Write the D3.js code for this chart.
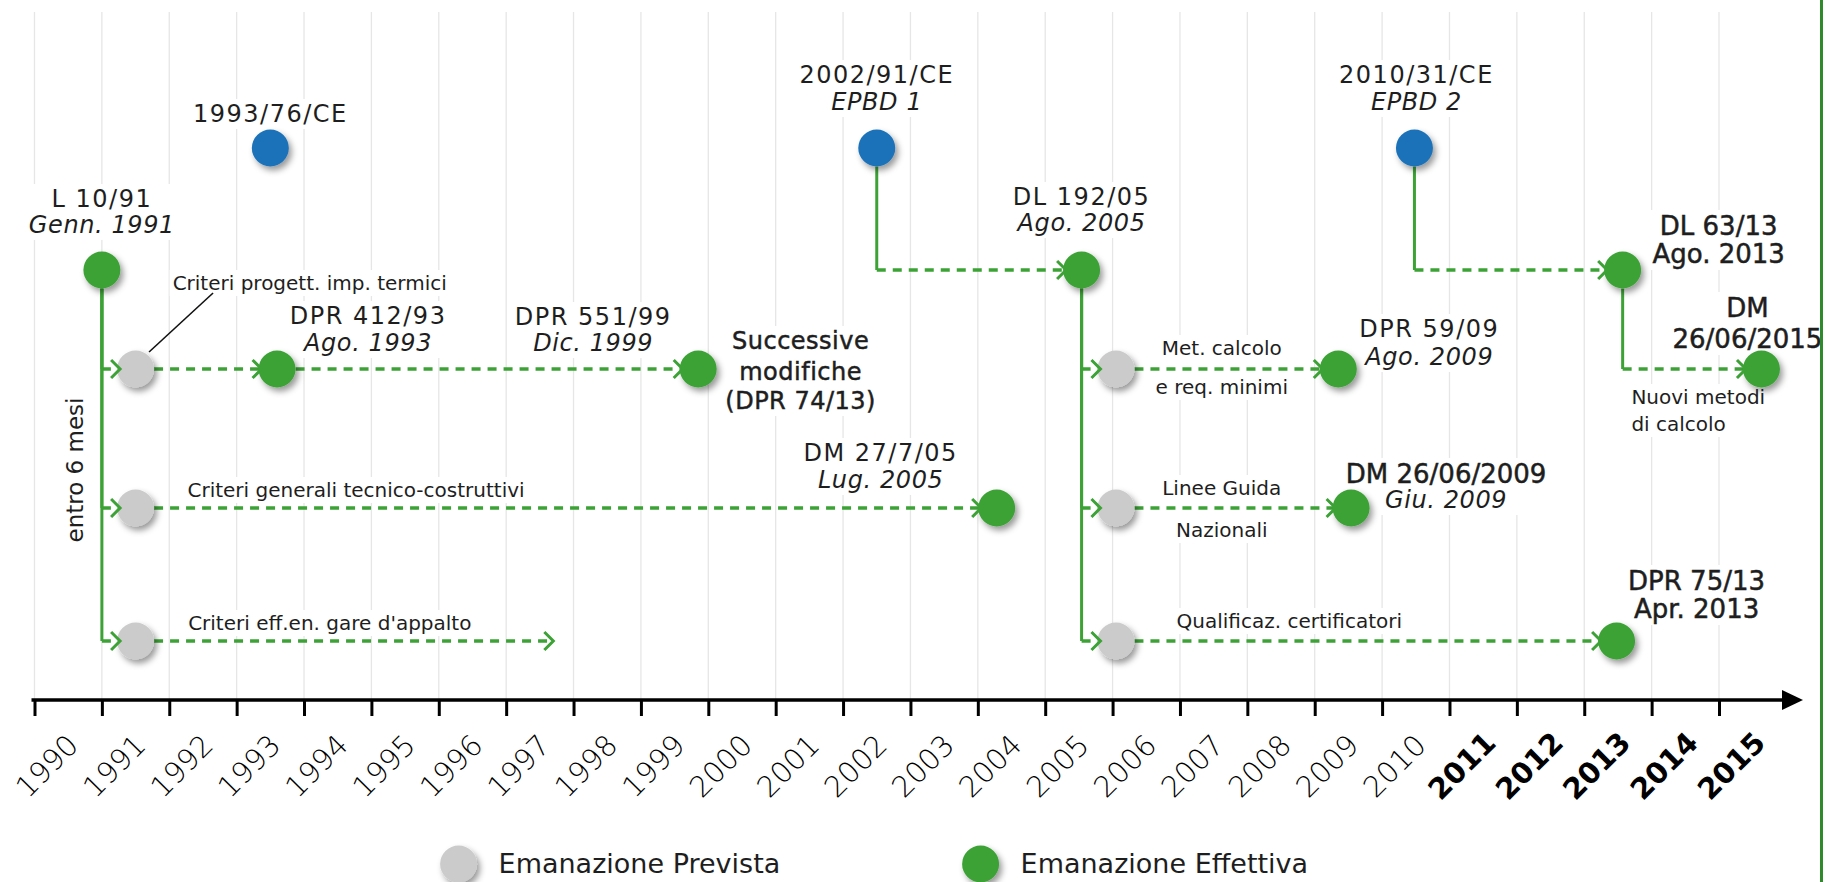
<!DOCTYPE html>
<html>
<head>
<meta charset="utf-8">
<script src="https://cdn.jsdelivr.net/npm/d3@7/dist/d3.min.js"></script>
<style>
  html, body { margin: 0; padding: 0; background: #fff; }
  svg { display: block; font-family: "DejaVu Sans", sans-serif; }
</style>
</head>
<body>
<svg id="chart" width="1825" height="882"></svg>
<script>
// ---- data -------------------------------------------------------------
const years = [1990, 1991, 1992, 1993, 1994, 1995, 1996, 1997, 1998, 1999, 2000, 2001, 2002,
               2003, 2004, 2005, 2006, 2007, 2008, 2009, 2010, 2011, 2012, 2013, 2014, 2015];
const boldYears = [2011, 2012, 2013, 2014, 2015];

const rows = ['eu', 'law', 'r1', 'r2', 'r3'];

// kind: eu = direttiva europea, done = emanazione effettiva, plan = emanazione prevista
const events = [
  { id: 'ce93',   title: '1993/76/CE',    sub: null,         date: 1993.5,  row: 'eu',  kind: 'eu' },
  { id: 'l10',    title: 'L 10/91',       sub: 'Genn. 1991', date: 1991.0,  row: 'law', kind: 'done' },
  { id: 'p1',     date: 1991.5,  row: 'r1', kind: 'plan' },
  { id: 'p2',     date: 1991.5,  row: 'r2', kind: 'plan' },
  { id: 'p3',     date: 1991.5,  row: 'r3', kind: 'plan' },
  { id: 'dpr412', title: 'DPR 412/93',    sub: 'Ago. 1993',  date: 1993.6,  row: 'r1',  kind: 'done' },
  { id: 'dpr551', title: 'DPR 551/99',    sub: 'Dic. 1999',  date: 1999.85, row: 'r1',  kind: 'done' },
  { id: 'dm05',   title: 'DM 27/7/05',    sub: 'Lug. 2005',  date: 2004.28, row: 'r2',  kind: 'done' },
  { id: 'ce02',   title: '2002/91/CE',    sub: 'EPBD 1',     date: 2002.5,  row: 'eu',  kind: 'eu' },
  { id: 'dl192',  title: 'DL 192/05',     sub: 'Ago. 2005',  date: 2005.54, row: 'law', kind: 'done' },
  { id: 'p4',     date: 2006.05, row: 'r1', kind: 'plan' },
  { id: 'p5',     date: 2006.05, row: 'r2', kind: 'plan' },
  { id: 'p6',     date: 2006.05, row: 'r3', kind: 'plan' },
  { id: 'dpr59',  title: 'DPR 59/09',     sub: 'Ago. 2009',  date: 2009.35, row: 'r1',  kind: 'done' },
  { id: 'dm09',   title: 'DM 26/06/2009', sub: 'Giu. 2009',  date: 2009.54, row: 'r2',  kind: 'done' },
  { id: 'ce10',   title: '2010/31/CE',    sub: 'EPBD 2',     date: 2010.48, row: 'eu',  kind: 'eu' },
  { id: 'dl63',   title: 'DL 63/13',      sub: 'Ago. 2013',  date: 2013.57, row: 'law', kind: 'done' },
  { id: 'dpr75',  title: 'DPR 75/13',     sub: 'Apr. 2013',  date: 2013.48, row: 'r3',  kind: 'done' },
  { id: 'dm15',   title: 'DM',            sub: '26/06/2015', date: 2015.63, row: 'r1',  kind: 'done' }
];

const links = [
  { from: 'l10', to: 'p1', type: 'elbow' },
  { from: 'l10', to: 'p2', type: 'elbow' },
  { from: 'l10', to: 'p3', type: 'elbow' },
  { from: 'p1', to: 'dpr412' },
  { from: 'dpr412', to: 'dpr551' },
  { from: 'p2', to: 'dm05' },
  { from: 'p3', toDate: 1997.7 },
  { from: 'ce02', to: 'dl192', type: 'elbow' },
  { from: 'dl192', to: 'p4', type: 'elbow' },
  { from: 'dl192', to: 'p5', type: 'elbow' },
  { from: 'dl192', to: 'p6', type: 'elbow' },
  { from: 'p4', to: 'dpr59' },
  { from: 'p5', to: 'dm09' },
  { from: 'p6', to: 'dpr75' },
  { from: 'ce10', to: 'dl63', type: 'elbow' },
  { from: 'dl63', to: 'dm15', type: 'elbow' }
];

const notes = [
  { lines: ['Criteri progett. imp. termici'],        date: 1992.05, row: 'r1' },
  { lines: ['Criteri generali tecnico-costruttivi'], date: 1992.27, row: 'r2' },
  { lines: ["Criteri eff.en. gare d'appalto"],       date: 1992.28, row: 'r3' },
  { lines: ['Successive', 'modifiche', '(DPR 74/13)'], date: 2001.37, row: 'r1' },
  { lines: ['Met. calcolo', 'e req. minimi'],        date: 2007.62, row: 'r1' },
  { lines: ['Linee Guida', 'Nazionali'],             date: 2007.62, row: 'r2' },
  { lines: ['Qualificaz. certificatori'],            date: 2006.95, row: 'r3' },
  { lines: ['Nuovi metodi', 'di calcolo'],           date: 2013.70, row: 'r1' }
];

const legendItems = [
  { label: 'Emanazione Prevista',  kind: 'plan' },
  { label: 'Emanazione Effettiva', kind: 'done' }
];

// ---- layout / style ---------------------------------------------------
const colors = { eu: '#1b72b9', done: '#3ca236', plan: '#cbcbcb', line: '#3ca236', text: '#1e1e1e' };
const R = 18.5;
const axisY = 700;

// label offsets from the circle: dx, baseline dy for each line, style of each line
const labelLayout = {
  ce93:   { dx: 0,    dy: [-26],      st: ['reg'] },
  l10:    { dx: 0,    dy: [-63, -37], st: ['reg', 'ital'] },
  dpr412: { dx: 91,   dy: [-45, -18], st: ['reg', 'ital'] },
  dpr551: { dx: -105, dy: [-44, -18], st: ['reg', 'ital'] },
  dm05:   { dx: -116, dy: [-47, -20], st: ['reg', 'ital'] },
  ce02:   { dx: 0,    dy: [-65, -38], st: ['reg', 'ital'] },
  dl192:  { dx: 0,    dy: [-65, -39], st: ['reg', 'ital'] },
  ce10:   { dx: 2,    dy: [-65, -38], st: ['reg', 'ital'] },
  dpr59:  { dx: 91,   dy: [-32, -4],  st: ['reg', 'ital'] },
  dm09:   { dx: 95,   dy: [-25, 0],   st: ['strong', 'ital'] },
  dl63:   { dx: 96,   dy: [-35, -7],  st: ['strong', 'strong'] },
  dm15:   { dx: -14,  dy: [-52, -21], st: ['strong', 'strong'] },
  dpr75:  { dx: 80,   dy: [-51, -23], st: ['strong', 'strong'] }
};
const noteLayout = [
  { anchor: 'start',  dy: [-79], st: 'small' },
  { anchor: 'start',  dy: [-11], st: 'small' },
  { anchor: 'start',  dy: [-11], st: 'small' },
  { anchor: 'middle', dy: [-20, 11, 40], st: 'strongNote' },
  { anchor: 'middle', dy: [-14, 25], st: 'small' },
  { anchor: 'middle', dy: [-13, 29], st: 'small' },
  { anchor: 'start',  dy: [-13], st: 'small' },
  { anchor: 'start',  dy: [35, 62], st: 'small' }
];
const textStyles = {
  reg:        { size: 24, italic: false, ls: 1.5, stroke: 0 },
  ital:       { size: 24, italic: true,  ls: 0.6, stroke: 0 },
  strong:     { size: 26, italic: false, ls: 0,   stroke: 0.5 },
  strongNote: { size: 24, italic: false, ls: 0.5, stroke: 0.5 },
  small:      { size: 20, italic: false, ls: 0,   stroke: 0 }
};

// ---- scales -----------------------------------------------------------
const x = d3.scaleLinear().domain([1990, 2015]).range([34.5, 1719]);
const y = d3.scaleOrdinal().domain(rows).range([148, 270, 369, 508, 641]);

const svg = d3.select('#chart');
const byId = new Map(events.map(e => [e.id, e]));

const defs = svg.append('defs');
const shadow = defs.append('filter').attr('id', 'shadow')
  .attr('x', '-50%').attr('y', '-50%').attr('width', '200%').attr('height', '200%');
shadow.append('feDropShadow').attr('dx', 3).attr('dy', 4).attr('stdDeviation', 3)
  .attr('flood-color', '#000').attr('flood-opacity', 0.4);

// gridlines
svg.append('g').selectAll('line').data(years).join('line')
  .attr('x1', d => x(d)).attr('x2', d => x(d))
  .attr('y1', 12).attr('y2', axisY)
  .attr('stroke', '#e6e6e6').attr('stroke-width', 1.3);

const bgLayer = svg.append('g');
const linkLayer = svg.append('g');
const circleLayer = svg.append('g');
const arrowLayer = svg.append('g');
const textLayer = svg.append('g');

function styleText(sel, st) {
  const s = textStyles[st];
  sel.attr('font-size', s.size)
    .attr('font-style', s.italic ? 'italic' : 'normal')
    .attr('letter-spacing', s.ls)
    .attr('fill', colors.text);
  if (s.stroke) sel.attr('stroke', colors.text).attr('stroke-width', s.stroke);
}

// connectors
links.forEach(l => {
  const s = byId.get(l.from);
  const t = l.to ? byId.get(l.to) : null;
  const sx = x(s.date), sy = y(s.row);
  const ty = t ? y(t.row) : sy;
  const tip = t ? x(t.date) - R + 3 : x(l.toDate);
  let hx = sx + R;
  if (l.type === 'elbow') {
    linkLayer.append('line')
      .attr('x1', sx).attr('x2', sx).attr('y1', sy + R).attr('y2', ty)
      .attr('stroke', colors.line).attr('stroke-width', 3);
    hx = sx;
  }
  linkLayer.append('line')
    .attr('x1', hx).attr('x2', tip - 2).attr('y1', ty).attr('y2', ty)
    .attr('stroke', colors.line).attr('stroke-width', 3.5)
    .attr('stroke-dasharray', '9 7');
  arrowLayer.append('path')
    .attr('d', `M${tip - 9},${ty - 9}L${tip},${ty}L${tip - 9},${ty + 9}`)
    .attr('fill', 'none').attr('stroke', colors.line).attr('stroke-width', 3);
});

// circles
circleLayer.selectAll('circle').data(events).join('circle')
  .attr('cx', d => x(d.date)).attr('cy', d => y(d.row)).attr('r', R)
  .attr('fill', d => colors[d.kind])
  .attr('filter', 'url(#shadow)');

// event labels
const labelGroups = [];
events.filter(e => labelLayout[e.id]).forEach(e => {
  const lay = labelLayout[e.id];
  const g = textLayer.append('g');
  [e.title, e.sub].filter(v => v).forEach((txt, i) => {
    g.append('text')
      .attr('x', x(e.date) + lay.dx).attr('y', y(e.row) + lay.dy[i])
      .attr('text-anchor', 'middle')
      .text(txt)
      .call(styleText, lay.st[i]);
  });
  labelGroups.push(g);
});

// notes on the connectors
notes.forEach((n, i) => {
  const lay = noteLayout[i];
  const g = textLayer.append('g');
  n.lines.forEach((txt, j) => {
    g.append('text')
      .attr('x', x(n.date)).attr('y', y(n.row) + lay.dy[j])
      .attr('text-anchor', lay.anchor)
      .text(txt)
      .call(styleText, lay.st);
  });
  labelGroups.push(g);
});

// leader line for "Criteri progett. imp. termici"
textLayer.append('line')
  .attr('x1', x(1992.65)).attr('y1', y('r1') - 76)
  .attr('x2', x(1991.70)).attr('y2', y('r1') - 17)
  .attr('stroke', '#111').attr('stroke-width', 1.6);

// white boxes behind labels (hide the gridlines)
labelGroups.forEach(g => {
  const b = g.node().getBBox();
  bgLayer.append('rect')
    .attr('x', b.x - 3).attr('y', b.y - 1).attr('width', b.width + 6).attr('height', b.height + 2)
    .attr('fill', '#fff');
});

// "entro 6 mesi"
textLayer.append('text')
  .attr('transform', `translate(${x(1991) - 27},470) rotate(-90)`)
  .attr('text-anchor', 'middle').attr('dominant-baseline', 'central')
  .attr('font-size', 23).attr('fill', colors.text)
  .text('entro 6 mesi');

// axis
const axis = d3.axisBottom(x)
  .tickValues(years).tickFormat(d3.format('d'))
  .tickSize(16).tickSizeOuter(0);
const ax = svg.append('g').attr('transform', `translate(0,${axisY})`).call(axis);
ax.select('.domain').remove();
ax.selectAll('.tick line').attr('stroke', '#000').attr('stroke-width', 3);
ax.selectAll('.tick text')
  .attr('x', null).attr('y', null).attr('dy', null)
  .attr('transform', 'translate(12,66) rotate(-45)')
  .attr('text-anchor', 'middle').attr('dominant-baseline', 'central')
  .attr('font-family', '"DejaVu Sans", sans-serif')
  .attr('font-size', 29)
  .attr('font-weight', d => boldYears.includes(d) ? 'bold' : 200)
  .attr('fill', '#000');
ax.append('line')
  .attr('x1', x(1990) - 3).attr('x2', x(2015) + 66)
  .attr('y1', 0).attr('y2', 0)
  .attr('stroke', '#000').attr('stroke-width', 3.5);
ax.append('path')
  .attr('d', `M${x(2015) + 63},-10L${x(2015) + 84},0L${x(2015) + 63},10Z`)
  .attr('fill', '#000');

// legend
const legendX = [458.6, 980.6];
const lg = svg.append('g').selectAll('g').data(legendItems).join('g')
  .attr('transform', (d, i) => `translate(${legendX[i]},864)`);
lg.append('circle').attr('r', R)
  .attr('fill', d => colors[d.kind]).attr('filter', 'url(#shadow)');
lg.append('text').attr('x', 40).attr('y', 9)
  .attr('font-size', 27).attr('fill', colors.text)
  .text(d => d.label);

// green frame on the right edge
svg.append('line')
  .attr('x1', 1821.5).attr('x2', 1821.5).attr('y1', 0).attr('y2', 882)
  .attr('stroke', '#2f8a2c').attr('stroke-width', 3);
</script>
</body>
</html>
